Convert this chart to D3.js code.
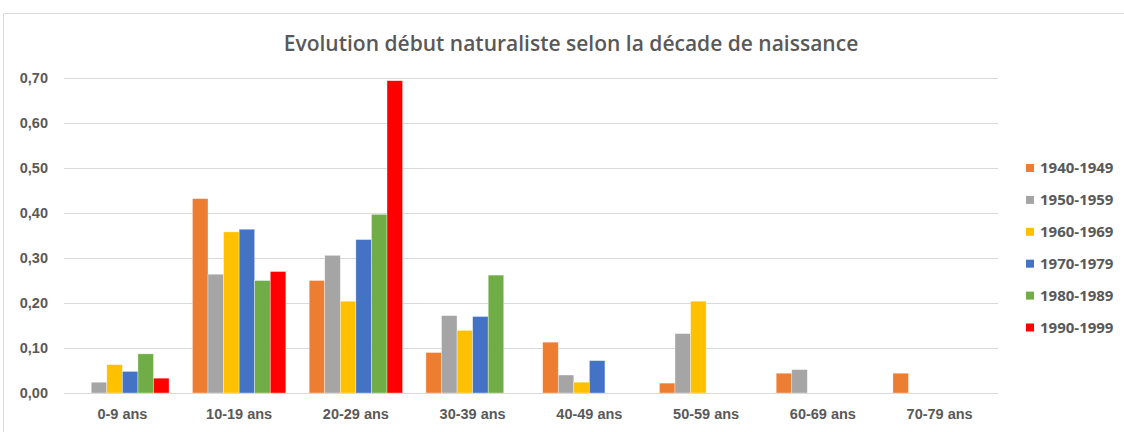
<!DOCTYPE html>
<html>
<head>
<meta charset="utf-8">
<script src="https://cdn.jsdelivr.net/npm/d3@7"></script>
<style>
  body { margin: 0; background: #fff; }
  svg { display: block; }
</style>
</head>
<body>
<div id="chart"></div>
<script>
const width = 1124
const height = 432

const categories = ["0-9 ans", "10-19 ans", "20-29 ans", "30-39 ans", "40-49 ans", "50-59 ans", "60-69 ans", "70-79 ans"]
const series = ["1940-1949", "1950-1959", "1960-1969", "1970-1979", "1980-1989", "1990-1999"]
const colors = ["#ED7D31", "#A5A5A5", "#FFC000", "#4472C4", "#70AD47", "#FF0000"]

// one array per birth decade, one value per age class
const v1940 = [0, 0.432, 0.25, 0.09, 0.113, 0.022, 0.044, 0.044]
const v1950 = [0.024, 0.264, 0.306, 0.172, 0.04, 0.132, 0.052, 0]
const v1960 = [0.063, 0.358, 0.204, 0.139, 0.024, 0.204, 0, 0]
const v1970 = [0.048, 0.364, 0.341, 0.17, 0.072, 0, 0, 0]
const v1980 = [0.087, 0.25, 0.397, 0.262, 0, 0, 0, 0]
const v1990 = [0.033, 0.27, 0.694, 0, 0, 0, 0, 0]
const values = [v1940, v1950, v1960, v1970, v1980, v1990]

const yTicks = [0, 0.1, 0.2, 0.3, 0.4, 0.5, 0.6, 0.7]

const textColor = "#595959"
const gridColor = "#d9d9d9"

const margin = {left: 64, right: 126, top: 78, bottom: 39}

const svg = d3.select("#chart").append("svg")
  .attr("width", width)
  .attr("height", height)
  .attr("font-family", "'Open Sans', sans-serif")

// chart area border
svg.append("path")
  .attr("d", `M3.5,${height} V13.5 H${width}`)
  .attr("fill", "none")
  .attr("stroke", gridColor)

const x = d3.scaleBand()
  .domain(categories)
  .range([margin.left, width - margin.right])
  .paddingInner(1.5 / 7.5)
  .paddingOuter(0.75 / 7.5)

const x1 = d3.scaleBand()
  .domain(series)
  .range([0, x.bandwidth()])

const y = d3.scaleLinear()
  .domain([0, 0.7])
  .range([height - margin.bottom, margin.top])

const fmt = d => d3.format(".2f")(d).replace(".", ",")

// gridlines
const yAxis = svg.append("g")
  .attr("transform", `translate(${margin.left},0)`)
  .call(d3.axisLeft(y).tickValues(yTicks).tickFormat(fmt)
    .tickSize(-(width - margin.left - margin.right)).tickPadding(16))
yAxis.select(".domain").remove()
yAxis.selectAll(".tick line").attr("stroke", gridColor)
yAxis.selectAll(".tick text")
  .attr("fill", textColor)
  .attr("font-size", 14.5)
  .attr("font-weight", "bold")

// bars
const groups = svg.append("g")
  .selectAll("g")
  .data(series)
  .join("g")
  .attr("fill", (d, i) => colors[i])

groups.selectAll("rect")
  .data((s, i) => categories.map((c, j) => ({c, s, v: values[i][j]})).filter(d => d.v > 0))
  .join("rect")
  .attr("x", d => x(d.c) + x1(d.s))
  .attr("y", d => y(d.v))
  .attr("width", x1.bandwidth())
  .attr("height", d => y(0) - y(d.v))
  .attr("stroke", "#fff")
  .attr("stroke-opacity", 0.6)
  .attr("stroke-width", 0.6)

// x axis
const xAxis = svg.append("g")
  .attr("transform", `translate(0,${y(0)})`)
  .call(d3.axisBottom(x).tickSize(0).tickPadding(16))
xAxis.select(".domain").attr("stroke", gridColor)
xAxis.selectAll(".tick text")
  .attr("fill", textColor)
  .attr("font-size", 14.5)
  .attr("font-weight", "bold")

// title
svg.append("text")
  .attr("x", 571)
  .attr("y", 51)
  .attr("text-anchor", "middle")
  .attr("fill", textColor)
  .attr("font-size", 21)
  .attr("font-weight", 600)
  .text("Evolution début naturaliste selon la décade de naissance")

// legend
const legend = svg.append("g")
  .selectAll("g")
  .data(series)
  .join("g")
  .attr("transform", (d, i) => `translate(1026,${168 + i * 31.9})`)

legend.append("rect")
  .attr("x", 0)
  .attr("y", -4)
  .attr("width", 8)
  .attr("height", 8)
  .attr("fill", (d, i) => colors[i])

legend.append("text")
  .attr("x", 14)
  .attr("dy", "0.35em")
  .attr("fill", textColor)
  .attr("font-size", 15)
  .attr("font-weight", "bold")
  .text(d => d)
</script>
</body>
</html>
